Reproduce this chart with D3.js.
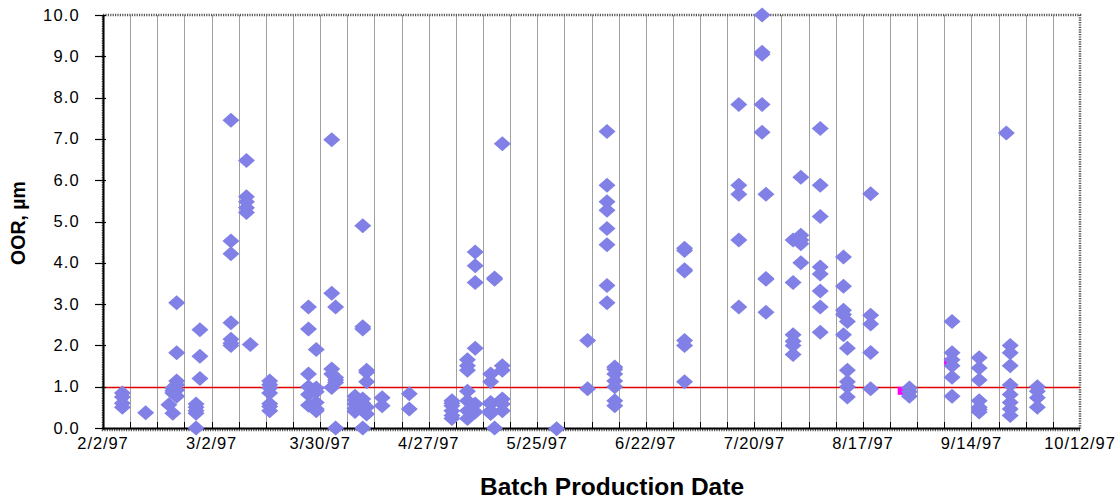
<!DOCTYPE html>
<html>
<head>
<meta charset="utf-8">
<script src="https://cdn.jsdelivr.net/npm/d3@7"></script>
<style>
  html, body { margin: 0; padding: 0; background: #fff; }
  svg { display: block; font-family: "Liberation Sans", Arial, sans-serif; }
</style>
</head>
<body>
<svg id="chart" width="1117" height="499"></svg>
<script>
// ---- data ----
const batchDates = [
  "1997-02-07","1997-02-07","1997-02-07","1997-02-07",
  "1997-02-13",
  "1997-02-19",
  "1997-02-20","1997-02-20","1997-02-20","1997-02-20",
  "1997-02-21","1997-02-21","1997-02-21","1997-02-21","1997-02-21","1997-02-21",
  "1997-02-27","1997-02-27","1997-02-27",
  "1997-02-26","1997-02-26","1997-02-26","1997-02-26","1997-02-26",
  "1997-03-07","1997-03-07","1997-03-07","1997-03-07","1997-03-07","1997-03-07","1997-03-07",
  "1997-03-11","1997-03-11","1997-03-11","1997-03-11","1997-03-11",
  "1997-03-12",
  "1997-03-17","1997-03-17","1997-03-17","1997-03-17","1997-03-17","1997-03-17","1997-03-17",
  "1997-03-27","1997-03-27","1997-03-27","1997-03-27","1997-03-27","1997-03-27",
  "1997-03-29","1997-03-29","1997-03-29","1997-03-29","1997-03-29","1997-03-29",
  "1997-04-02","1997-04-02","1997-04-02","1997-04-02","1997-04-02",
  "1997-04-03","1997-04-03","1997-04-03","1997-04-03","1997-04-03",
  "1997-04-08","1997-04-08","1997-04-08","1997-04-08","1997-04-08",
  "1997-04-10","1997-04-10","1997-04-10","1997-04-10","1997-04-10","1997-04-10",
  "1997-04-11","1997-04-11","1997-04-11","1997-04-11","1997-04-11",
  "1997-04-15","1997-04-15",
  "1997-04-22","1997-04-22",
  "1997-05-03","1997-05-03","1997-05-03","1997-05-03","1997-05-03","1997-05-03",
  "1997-05-07","1997-05-07","1997-05-07","1997-05-07","1997-05-07","1997-05-07","1997-05-07",
  "1997-05-09","1997-05-09","1997-05-09","1997-05-09","1997-05-09","1997-05-09",
  "1997-05-13","1997-05-13","1997-05-13","1997-05-13","1997-05-13","1997-05-13",
  "1997-05-14","1997-05-14","1997-05-14",
  "1997-05-16","1997-05-16","1997-05-16","1997-05-16","1997-05-16","1997-05-16",
  "1997-05-30",
  "1997-06-07","1997-06-07",
  "1997-06-12","1997-06-12","1997-06-12","1997-06-12","1997-06-12","1997-06-12","1997-06-12","1997-06-12",
  "1997-06-14","1997-06-14","1997-06-14","1997-06-14","1997-06-14","1997-06-14","1997-06-14",
  "1997-07-02","1997-07-02","1997-07-02","1997-07-02","1997-07-02","1997-07-02","1997-07-02",
  "1997-07-16","1997-07-16","1997-07-16","1997-07-16","1997-07-16",
  "1997-07-22","1997-07-22","1997-07-22","1997-07-22","1997-07-22",
  "1997-07-23","1997-07-23","1997-07-23","1997-07-23",
  "1997-07-30","1997-07-30","1997-07-30","1997-07-30","1997-07-30","1997-07-30",
  "1997-08-01","1997-08-01","1997-08-01","1997-08-01","1997-08-01",
  "1997-08-06","1997-08-06","1997-08-06","1997-08-06","1997-08-06","1997-08-06","1997-08-06","1997-08-06",
  "1997-08-12","1997-08-12","1997-08-12","1997-08-12","1997-08-12",
  "1997-08-13","1997-08-13","1997-08-13","1997-08-13","1997-08-13","1997-08-13",
  "1997-08-19","1997-08-19","1997-08-19","1997-08-19","1997-08-19",
  "1997-08-29","1997-08-29","1997-08-29",
  "1997-09-09","1997-09-09","1997-09-09","1997-09-09","1997-09-09","1997-09-09",
  "1997-09-16","1997-09-16","1997-09-16","1997-09-16","1997-09-16","1997-09-16","1997-09-16",
  "1997-09-23",
  "1997-09-24","1997-09-24","1997-09-24","1997-09-24","1997-09-24","1997-09-24","1997-09-24","1997-09-24",
  "1997-10-01","1997-10-01","1997-10-01","1997-10-01"
];
const oorValues = [
  0.85,0.75,0.6,0.5,
  0.37,
  0.56,
  0.97,0.85,0.36,0.9,
  3.03,1.82,1.14,1.05,0.77,0.92,
  2.38,1.74,1.2,
  0.58,0.5,0.42,0.36,0.0,
  7.45,4.53,4.22,2.55,2.15,2.05,2.0,
  6.48,5.6,5.48,5.33,5.22,
  2.02,
  1.14,1.05,0.97,0.85,0.59,0.52,0.42,
  2.93,2.4,1.31,1.0,0.81,0.55,
  1.9,0.97,0.88,0.62,0.46,0.42,
  6.98,3.26,1.43,1.31,0.98,
  2.93,1.22,1.16,1.1,0.0,
  0.77,0.68,0.58,0.47,0.4,
  4.9,2.45,2.4,0.7,0.6,0.0,
  1.4,1.35,1.12,0.5,0.34,
  0.73,0.54,
  0.83,0.46,
  0.66,0.6,0.54,0.42,0.3,0.23,
  1.65,1.51,1.4,0.89,0.66,0.42,0.23,
  4.26,3.93,3.52,1.93,0.58,0.39,
  1.31,1.12,0.62,0.58,0.42,0.35,
  3.63,3.6,0.0,
  6.88,1.51,1.4,0.7,0.58,0.42,
  -0.02,
  2.12,0.95,
  7.18,5.88,5.48,5.27,4.83,4.44,3.45,3.03,
  1.48,1.42,1.31,1.14,1.0,0.66,0.54,
  4.35,4.3,3.83,3.8,2.12,2.0,1.12,
  7.83,5.88,5.66,4.55,2.93,
  10.0,9.1,9.05,7.83,7.16,
  5.66,3.62,3.6,2.8,
  4.55,3.52,2.26,2.1,2.0,1.78,
  6.07,4.67,4.55,4.46,4.0,
  7.25,5.88,5.12,3.9,3.73,3.32,2.93,2.32,
  4.14,3.43,2.85,2.75,2.26,
  2.58,1.93,1.4,1.12,1.0,0.75,
  5.67,2.73,2.52,1.83,0.95,
  0.97,0.88,0.77,
  2.58,1.82,1.65,1.51,1.23,0.77,
  1.7,1.45,1.16,0.66,0.5,0.45,0.39,
  7.14,
  2.0,1.82,1.51,1.04,0.81,0.62,0.46,0.3,
  1.0,0.89,0.73,0.5
];
// small hidden second series (magenta squares peeking from behind the diamonds)
const hiddenDates = ["1997-08-27","1997-09-08"];
const hiddenValues = [0.9, 1.6];

const yTickValues = [0,1,2,3,4,5,6,7,8,9,10];
const xLabelDates = ["1997-02-02","1997-03-02","1997-03-30","1997-04-27","1997-05-25",
                     "1997-06-22","1997-07-20","1997-08-17","1997-09-14","1997-10-12"];
const specLimit = 1.0;
const xTitle = "Batch Production Date";
const yTitle = "OOR, \u00B5m";

// ---- drawing ----
const parse = d3.utcParse("%Y-%m-%d");
const fmt = d3.utcFormat("%-m/%-d/%y");
const svg = d3.select("#chart");
const L = 103, R = 1080, T = 15, B = 428;

const x = d3.scaleUtc().domain([parse("1997-02-02"), parse("1997-10-12")]).range([L, R]);
const y = d3.scaleLinear().domain([0, 10]).range([B, T]);

// weekly grid lines
const weeks = d3.utcWeek.every(1).range(parse("1997-02-03"), parse("1997-10-12"));
svg.append("g").selectAll("line").data(weeks).join("line")
  .attr("x1", d => Math.round(x(d)) + 0.5).attr("x2", d => Math.round(x(d)) + 0.5)
  .attr("y1", T).attr("y2", B)
  .attr("stroke", "#a0a0a0").attr("stroke-width", 1);

// weekly inner ticks on the x axis
svg.append("g").selectAll("line").data(weeks).join("line")
  .attr("x1", d => Math.round(x(d)) + 0.5).attr("x2", d => Math.round(x(d)) + 0.5)
  .attr("y1", B - 6).attr("y2", B)
  .attr("stroke", "#000").attr("stroke-width", 1);

// plot border (dotted, Excel style)
svg.append("rect")
  .attr("x", L).attr("y", T).attr("width", R - L).attr("height", B - T + 2)
  .attr("fill", "none").attr("stroke", "#555").attr("stroke-width", 2.5)
  .attr("stroke-dasharray", "1.2,1.2");

// spec limit line
svg.append("line")
  .attr("x1", L).attr("x2", R)
  .attr("y1", Math.round(y(specLimit)) + 0.5).attr("y2", Math.round(y(specLimit)) + 0.5)
  .attr("stroke", "#e00000").attr("stroke-width", 1.3);

// axis lines
svg.append("line").attr("x1", L + 0.5).attr("x2", L + 0.5).attr("y1", T).attr("y2", B + 1)
  .attr("stroke", "#000").attr("stroke-width", 2);
svg.append("line").attr("x1", L).attr("x2", R).attr("y1", B + 0.5).attr("y2", B + 0.5)
  .attr("stroke", "#000").attr("stroke-width", 2);

// y ticks + labels
const yt = svg.append("g");
yt.selectAll("line").data(yTickValues).join("line")
  .attr("x1", L - 8).attr("x2", L + 3)
  .attr("y1", d => Math.round(y(d)) + 0.5).attr("y2", d => Math.round(y(d)) + 0.5)
  .attr("stroke", "#000").attr("stroke-width", 1.2);
yt.selectAll("text").data(yTickValues).join("text")
  .attr("x", 80).attr("y", d => y(d) + 5.5)
  .attr("text-anchor", "end").attr("font-size", 16.5).attr("fill", "#000")
  .attr("letter-spacing", 1.2)
  .text(d => d3.format(".1f")(d));

// x labels
svg.append("g").selectAll("text").data(xLabelDates).join("text")
  .attr("x", d => x(parse(d))).attr("y", 449)
  .attr("text-anchor", "middle").attr("font-size", 16.5).attr("fill", "#000")
  .attr("letter-spacing", 0.9)
  .text(d => fmt(parse(d)));

// hidden magenta squares
svg.append("g").selectAll("rect").data(hiddenDates.map((d, i) => ({d: parse(d), v: hiddenValues[i]})))
  .join("rect")
  .attr("x", p => x(p.d) - 4).attr("y", p => y(p.v) - 4).attr("width", 8).attr("height", 8)
  .attr("fill", "#ff00ff");

// diamond markers
const pts = batchDates.map((d, i) => ({d: parse(d), v: oorValues[i]}));
const diamond = "M0,-7.5L8.5,0L0,7.5L-8.5,0Z";
svg.append("g").selectAll("path").data(pts).join("path")
  .attr("transform", p => `translate(${x(p.d)},${y(p.v)})`)
  .attr("d", diamond)
  .attr("fill", "#8080e6");

// axis titles
svg.append("text").attr("x", 612).attr("y", 495)
  .attr("text-anchor", "middle").attr("font-size", 24.5).attr("font-weight", "bold")
  .text(xTitle);
svg.append("text")
  .attr("transform", "translate(25,223) rotate(-90)")
  .attr("text-anchor", "middle").attr("font-size", 19.5).attr("font-weight", "bold")
  .text(yTitle);
</script>
</body>
</html>
